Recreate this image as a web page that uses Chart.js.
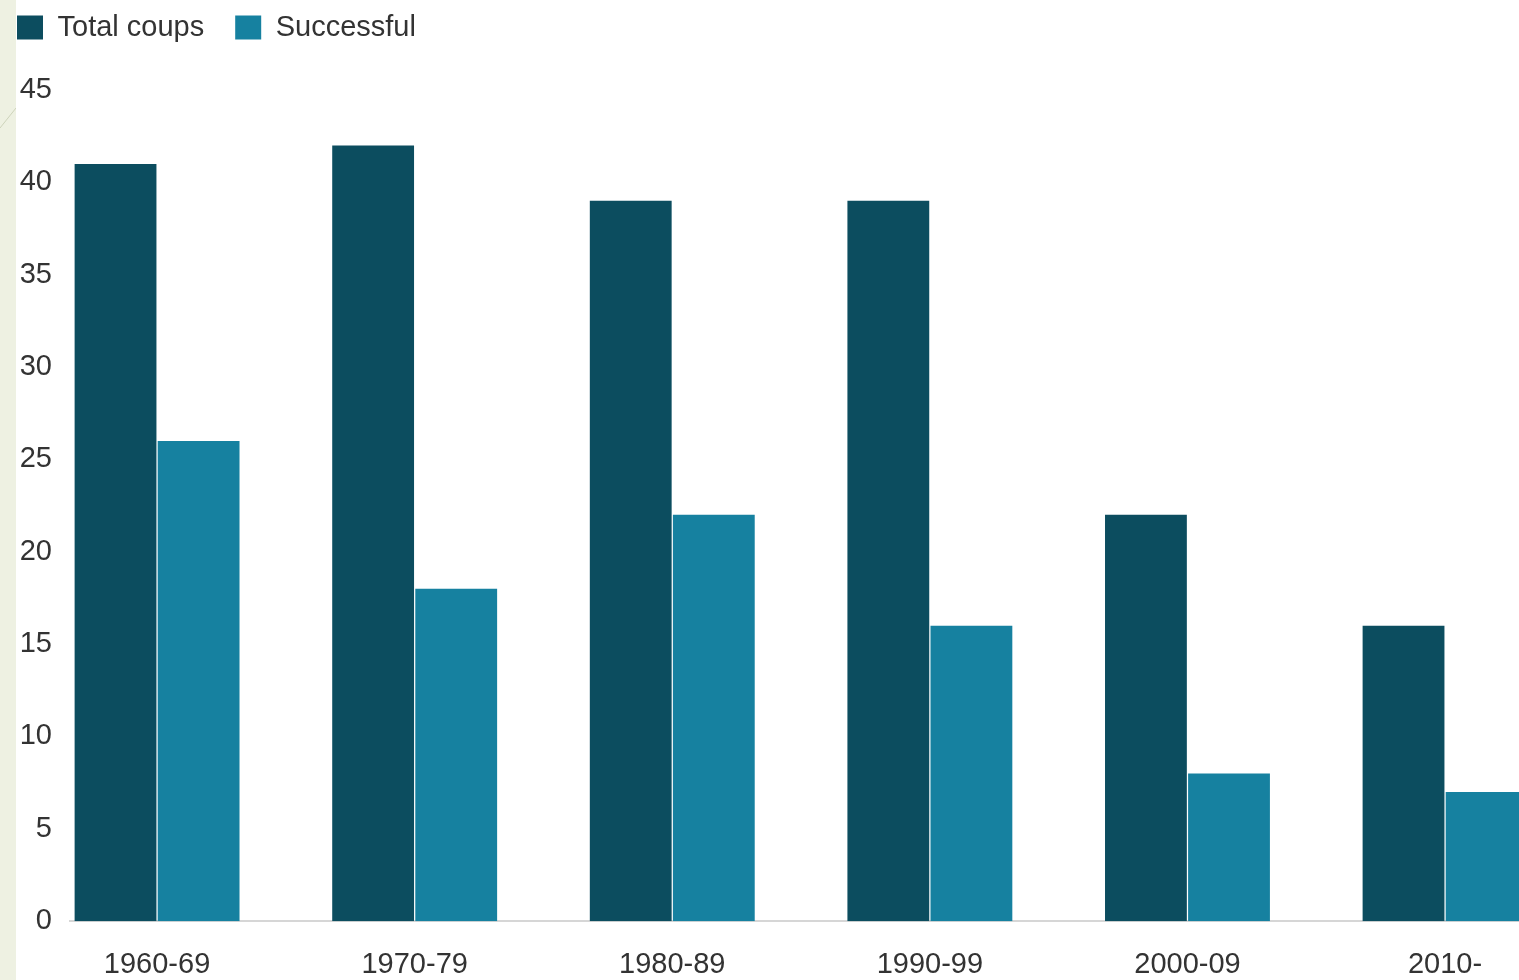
<!DOCTYPE html>
<html>
<head>
<meta charset="utf-8">
<title>Coups by decade</title>
<script src="https://cdn.jsdelivr.net/npm/chart.js@4.4.1/dist/chart.umd.min.js"></script>
<style>
  html, body {
    margin: 0;
    padding: 0;
    width: 1519px;
    height: 980px;
    overflow: hidden;
    background: #ffffff;
  }
  /* 左端の帯 */
  #side-strip {
    position: absolute;
    left: 0;
    top: 0;
    width: 16px;
    height: 980px;
    background: #eef1e2;
  }
  #side-strip svg {
    position: absolute;
    left: 0;
    top: 0;
  }
  /* キャンバスは少し左上にずらして凡例を帯の右に合わせる */
  #chart-wrap {
    position: absolute;
    left: -14px;
    top: -18px;
    width: 1533px;
    height: 1026px;
  }
</style>
</head>
<body>
<div id="side-strip">
  <svg width="16" height="980"><line x1="0" y1="128" x2="16" y2="108" stroke="#cdd3bb" stroke-width="1"/></svg>
</div>
<div id="chart-wrap"><canvas id="coupsChart"></canvas></div>
<script>
// 年代ごとのクーデター件数
const decades = ['1960-69', '1970-79', '1980-89', '1990-99', '2000-09', '2010-'];
const totalCoups = [41, 42, 39, 39, 22, 16];
const successfulCoups = [26, 18, 22, 16, 8, 7];
const yTicks = [0, 5, 10, 15, 20, 25, 30, 35, 40, 45];

const DARK = '#0c4d5f';  // 総数
const LIGHT = '#1681a0'; // 成功
const FONT = 'Liberation Sans, Arial, Helvetica, sans-serif';

// x軸は数値スケールにして、年代の位置を index で指定する
function toPoints(values) {
  return values.map((v, i) => ({ x: i, y: v }));
}

// 凡例の下に余白を足す
const legendGap = {
  id: 'legendGap',
  beforeInit(chart) {
    const originalFit = chart.legend.fit;
    chart.legend.fit = function() {
      originalFit.bind(chart.legend)();
      this.height += 38;
    };
  }
};

const ctx = document.getElementById('coupsChart');
const coupsChart = new Chart(ctx, {
  type: 'bar',
  data: {
    datasets: [{
      label: 'Total coups',
      data: toPoints(totalCoups),
      backgroundColor: DARK,
      borderWidth: 0,
      categoryPercentage: 0.645,
      barPercentage: 0.985
    }, {
      label: 'Successful',
      data: toPoints(successfulCoups),
      backgroundColor: LIGHT,
      borderWidth: 0,
      categoryPercentage: 0.645,
      barPercentage: 0.985
    }]
  },
  plugins: [legendGap],
  options: {
    responsive: true,
    maintainAspectRatio: false,
    animation: false,
    layout: { padding: 0 },
    plugins: {
      legend: {
        position: 'top',
        align: 'start',
        labels: {
          boxWidth: 26,
          boxHeight: 24,
          padding: 31,
          color: '#333333',
          font: { family: FONT, size: 29 }
        }
      },
      tooltip: { enabled: false }
    },
    scales: {
      x: {
        type: 'linear',
        offset: false,
        min: -0.338,
        max: 5.287,
        grid: { display: false, drawTicks: false },
        border: { display: true, color: '#d6d6d6', width: 2 },
        ticks: {
          stepSize: 1,
          includeBounds: false,
          padding: 26,
          color: '#333333',
          font: { family: FONT, size: 29 },
          callback: function(value) {
            return decades[value] !== undefined ? decades[value] : '';
          }
        }
      },
      y: {
        min: yTicks[0],
        max: yTicks[yTicks.length - 1],
        grid: { display: false, drawTicks: false },
        border: { display: false },
        ticks: {
          stepSize: yTicks[1] - yTicks[0],
          padding: 18,
          color: '#333333',
          font: { family: FONT, size: 29 }
        },
        afterFit: function(scale) {
          scale.width = 84;
        }
      }
    }
  }
});
</script>
</body>
</html>
